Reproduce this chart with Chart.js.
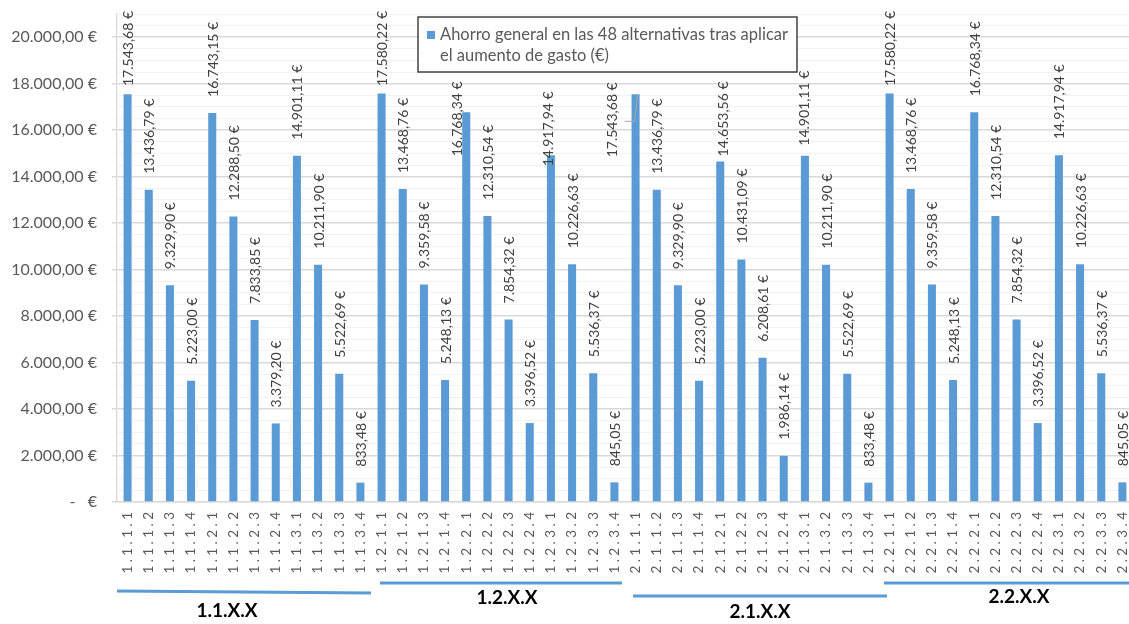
<!DOCTYPE html>
<html>
<head>
<meta charset="utf-8">
<script src="https://cdn.jsdelivr.net/npm/chart.js@4.4.1/dist/chart.umd.min.js"></script>
<style>
  html, body { margin: 0; padding: 0; background: #ffffff; overflow: hidden; width: 1129px; height: 624px; }
  canvas { display: block; }
</style>
</head>
<body>
<canvas id="chart" width="1133" height="624"></canvas>
<script>
// Alternatives (category axis)
const categories = [
  '1.1.1.1','1.1.1.2','1.1.1.3','1.1.1.4','1.1.2.1','1.1.2.2','1.1.2.3','1.1.2.4','1.1.3.1','1.1.3.2','1.1.3.3','1.1.3.4',
  '1.2.1.1','1.2.1.2','1.2.1.3','1.2.1.4','1.2.2.1','1.2.2.2','1.2.2.3','1.2.2.4','1.2.3.1','1.2.3.2','1.2.3.3','1.2.3.4',
  '2.1.1.1','2.1.1.2','2.1.1.3','2.1.1.4','2.1.2.1','2.1.2.2','2.1.2.3','2.1.2.4','2.1.3.1','2.1.3.2','2.1.3.3','2.1.3.4',
  '2.2.1.1','2.2.1.2','2.2.1.3','2.2.1.4','2.2.2.1','2.2.2.2','2.2.2.3','2.2.2.4','2.2.3.1','2.2.3.2','2.2.3.3','2.2.3.4'
];

// Savings per alternative (€)
const ahorro = [
  17543.68, 13436.79, 9329.90, 5223.00, 16743.15, 12288.50, 7833.85, 3379.20, 14901.11, 10211.90, 5522.69, 833.48,
  17580.22, 13468.76, 9359.58, 5248.13, 16768.34, 12310.54, 7854.32, 3396.52, 14917.94, 10226.63, 5536.37, 845.05,
  17543.68, 13436.79, 9329.90, 5223.00, 14653.56, 10431.09, 6208.61, 1986.14, 14901.11, 10211.90, 5522.69, 833.48,
  17580.22, 13468.76, 9359.58, 5248.13, 16768.34, 12310.54, 7854.32, 3396.52, 14917.94, 10226.63, 5536.37, 845.05
];

const seriesLabel = 'Ahorro general en las 48 alternativas tras aplicar el aumento de gasto (€)';
const legendLines = ['Ahorro general en las 48 alternativas tras aplicar', 'el aumento de gasto (€)'];

// Group brackets under the axis
const groupNames = ['1.1.X.X', '1.2.X.X', '2.1.X.X', '2.2.X.X'];
const groupSize = 12;

// Value axis
const yMax = 21000;
const yMinorStep = 500;
const yMajorStep = 2000;

const BLUE = '#5b9bd5';
const FONT = 'Lato, "Open Sans", "Liberation Sans", sans-serif';

function fmtEuro(v) {
  if (Math.abs(v) < 0.005) return '-   €';
  const parts = v.toFixed(2).split('.');
  const intPart = parts[0].replace(/\B(?=(\d{3})+(?!\d))/g, '.');
  return intPart + ',' + parts[1] + ' €';
}

// Hand-placed label nudges (dx, dy in px) for labels moved away from the legend
const labelNudge = { 16: [-9, 60], 20: [-2, 27], 24: [-23, 79], 28: [3, 11], 32: [0, 6] };
const leaderLines = { 24: true };

const valueLabels = {
  id: 'valueLabels',
  afterDatasetsDraw(chart) {
    const ctx = chart.ctx;
    const meta = chart.getDatasetMeta(0);
    ctx.save();
    ctx.font = '14px ' + FONT;
    ctx.fillStyle = '#404040';
    ctx.textAlign = 'left';
    ctx.textBaseline = 'middle';
    meta.data.forEach((bar, i) => {
      const txt = fmtEuro(ahorro[i]);
      const w = ctx.measureText(txt).width;
      let x = bar.x + 1;
      let yb = bar.y - 16;
      if (yb - w < 11) yb = 11 + w;
      const n = labelNudge[i];
      if (n) { x = bar.x + n[0]; yb = bar.y - 16 + n[1]; }
      if (leaderLines[i]) {
        ctx.save();
        ctx.strokeStyle = '#a6a6a6';
        ctx.lineWidth = 1;
        ctx.beginPath();
        ctx.moveTo(bar.x + 2, bar.y);
        ctx.lineTo(bar.x - 1, bar.y + 27);
        ctx.lineTo(bar.x - 11, bar.y + 27);
        ctx.stroke();
        ctx.restore();
      }
      ctx.save();
      ctx.translate(x, yb);
      ctx.rotate(-Math.PI / 2);
      ctx.fillText(txt, 0, 0);
      ctx.restore();
    });
    ctx.restore();
  }
};

// Per-group bracket placement: offsets from the group's category edges and vertical positions
const groupStyle = [
  { dx0: 0, dx1: 0,  y0: 591, y1: 593, ldx: -17, ly: 611 },
  { dx0: 9, dx1: -3, y0: 583, y1: 583, ldx: 9,   ly: 598 },
  { dx0: 8, dx1: 8,  y0: 596, y1: 596, ldx: 8,   ly: 612 },
  { dx0: 5, dx1: 0,  y0: 583, y1: 583, ldx: 13,  ly: 597 }
];

const groupBrackets = {
  id: 'groupBrackets',
  afterDraw(chart) {
    const ctx = chart.ctx;
    const xs = chart.scales.x;
    const half = xs.width / categories.length / 2;
    ctx.save();
    groupNames.forEach((name, g) => {
      const s = groupStyle[g];
      const edgeL = xs.getPixelForValue(g * groupSize) - half;
      const edgeR = xs.getPixelForValue(g * groupSize + groupSize - 1) + half;
      ctx.strokeStyle = BLUE;
      ctx.lineWidth = 3;
      ctx.beginPath();
      ctx.moveTo(edgeL + s.dx0, s.y0);
      ctx.lineTo(edgeR + s.dx1, s.y1);
      ctx.stroke();
      ctx.fillStyle = '#000000';
      ctx.font = 'bold 19px ' + FONT;
      ctx.textAlign = 'center';
      ctx.textBaseline = 'middle';
      ctx.fillText(name, (edgeL + edgeR) / 2 + s.ldx, s.ly);
    });
    ctx.restore();
  }
};

const boxLegend = {
  id: 'boxLegend',
  afterDraw(chart) {
    const ctx = chart.ctx;
    const bx = 418, by = 17, bw = 379, bh = 55;
    ctx.save();
    ctx.fillStyle = '#ffffff';
    ctx.fillRect(bx, by, bw, bh);
    ctx.strokeStyle = '#262626';
    ctx.lineWidth = 1.3;
    ctx.strokeRect(bx, by, bw, bh);
    ctx.fillStyle = BLUE;
    ctx.fillRect(bx + 9, by + 14, 8, 8);
    ctx.fillStyle = '#595959';
    ctx.font = '16.5px ' + FONT;
    ctx.textAlign = 'left';
    ctx.textBaseline = 'middle';
    ctx.fillText(legendLines[0], bx + 22, by + 18);
    ctx.fillText(legendLines[1], bx + 22, by + 39);
    ctx.restore();
  }
};

new Chart(document.getElementById('chart'), {
  type: 'bar',
  data: {
    labels: categories,
    datasets: [{
      label: seriesLabel,
      data: ahorro,
      backgroundColor: BLUE,
      borderWidth: 0,
      categoryPercentage: 1,
      barPercentage: 0.38
    }]
  },
  options: {
    responsive: false,
    animation: false,
    layout: { padding: { top: 14, left: 0, right: 0, bottom: 0 } },
    plugins: {
      legend: { display: false },
      tooltip: { enabled: false }
    },
    scales: {
      x: {
        grid: { display: false, drawTicks: false },
        border: { display: true, color: '#d9d9d9', width: 1.3 },
        ticks: {
          autoSkip: false,
          minRotation: 90,
          maxRotation: 90,
          padding: 10,
          color: '#595959',
          font: { family: FONT, size: 13.5 },
          // spread the characters of each code along the rotated label
          callback(value, index) { return categories[index].split('').join(' '); }
        },
        afterFit(scale) {
          scale.height = 122;
          scale.paddingLeft = 0;
          scale.paddingRight = 0;
        }
      },
      y: {
        min: 0,
        max: yMax,
        border: { display: true, color: '#d9d9d9', width: 1.3 },
        grid: {
          color: (c) => (c.tick && c.tick.value % yMajorStep === 0) ? '#d9d9d9' : '#f2f2f2',
          lineWidth: (c) => (c.tick && c.tick.value % yMajorStep === 0) ? 1.5 : 1,
          tickColor: (c) => (c.tick && c.tick.value % yMajorStep === 0) ? '#d9d9d9' : 'rgba(0,0,0,0)',
          tickLength: 5
        },
        ticks: {
          stepSize: yMinorStep,
          autoSkip: false,
          padding: 15,
          color: '#595959',
          font: { family: FONT, size: 16 },
          callback(value) { return value % yMajorStep === 0 ? fmtEuro(value) : ''; }
        },
        afterFit(scale) {
          scale.width = 117;
          scale.paddingTop = 0;
          scale.paddingBottom = 0;
        }
      }
    }
  },
  plugins: [valueLabels, groupBrackets, boxLegend]
});
</script>
</body>
</html>
